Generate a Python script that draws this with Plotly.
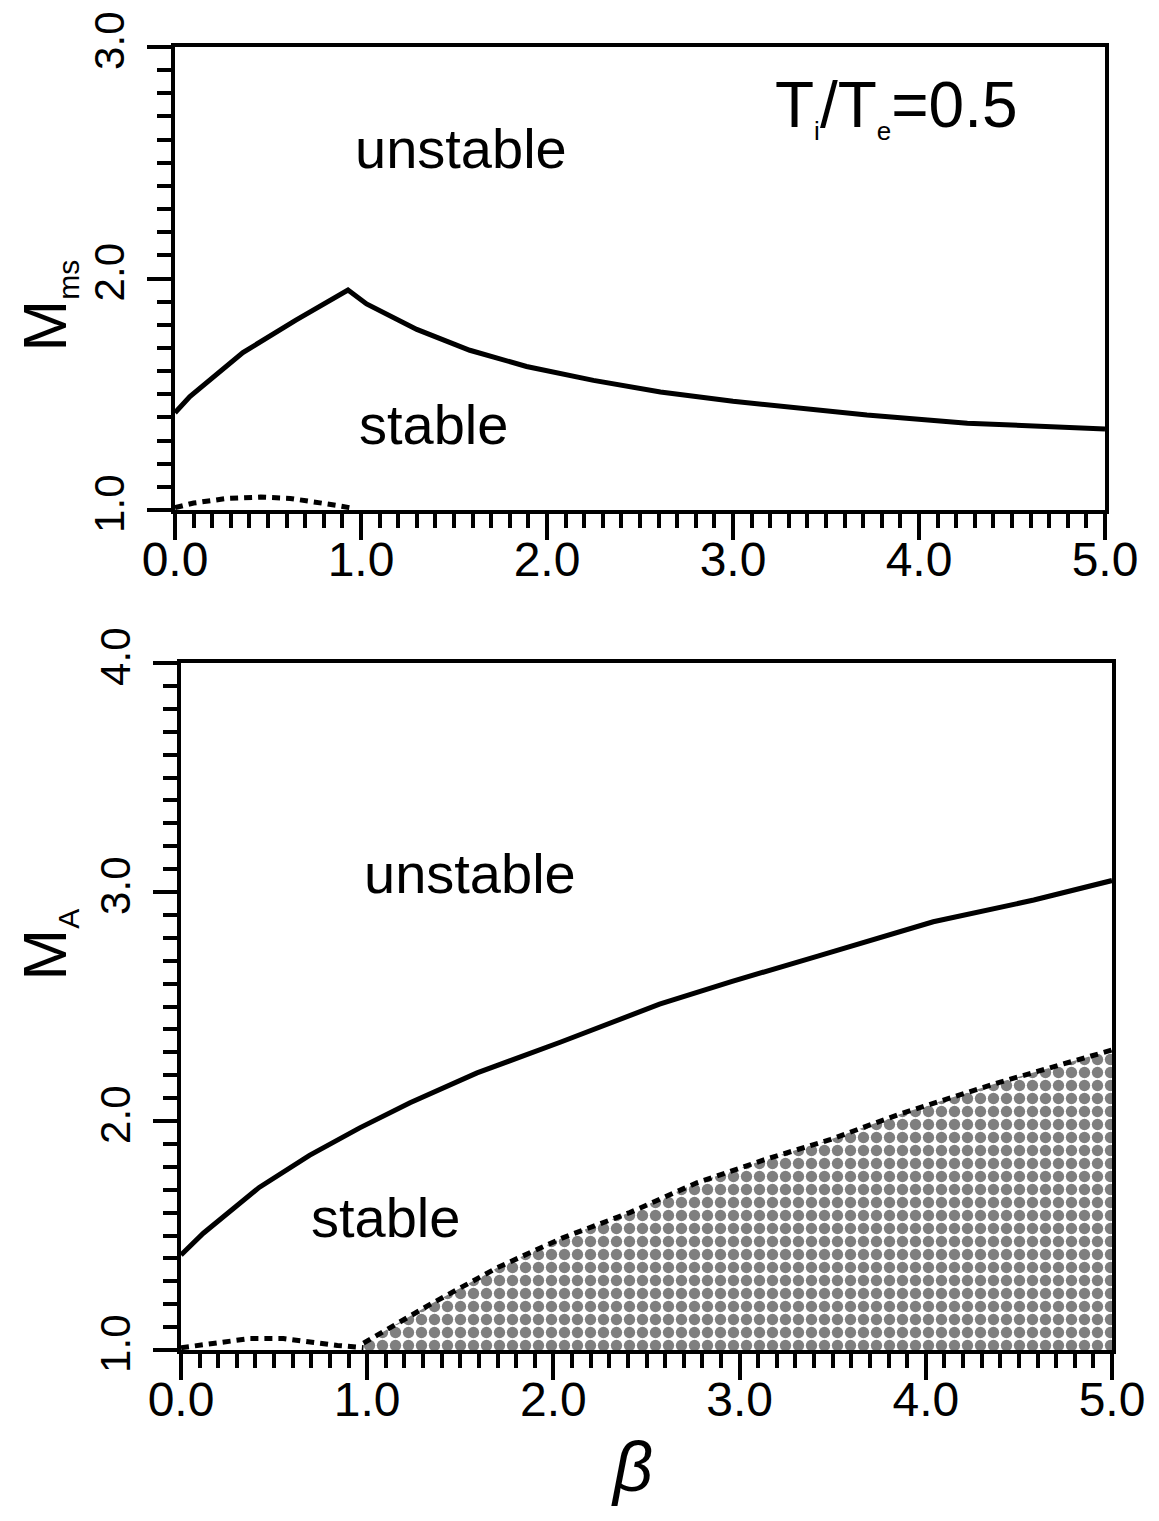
import plotly.graph_objects as go

# Upper panel: magnetosonic Mach number boundary, T_i/T_e = 0.5
beta_ms = [0.0, 0.08, 0.365, 0.65, 0.93, 1.03, 1.30, 1.585, 1.89, 2.25, 2.61, 3.0, 3.72, 4.26, 5.0]
m_ms = [1.42, 1.49, 1.68, 1.82, 1.95, 1.89, 1.78, 1.69, 1.62, 1.56, 1.51, 1.47, 1.41, 1.375, 1.35]

beta_ms_low = [0.0, 0.10, 0.28, 0.46, 0.62, 0.76, 0.87, 0.94]
m_ms_low = [1.01, 1.03, 1.05, 1.056, 1.05, 1.035, 1.02, 1.01]

# Lower panel: Alfvenic Mach number boundary
beta_a = [0.0, 0.12, 0.42, 0.69, 0.96, 1.23, 1.59, 2.04, 2.57, 2.96, 3.42, 4.04, 4.58, 5.0]
m_a = [1.415, 1.51, 1.71, 1.85, 1.97, 2.08, 2.21, 2.345, 2.51, 2.61, 2.72, 2.87, 2.965, 3.05]

beta_a_low = [0.0, 0.19, 0.37, 0.55, 0.69, 0.84, 0.98]
m_a_low = [1.01, 1.03, 1.05, 1.05, 1.035, 1.02, 1.01]

# Shaded region boundary
beta_shade = [0.98, 1.34, 1.70, 2.05, 2.41, 2.77, 3.13, 3.49, 3.86, 4.40, 5.0]
m_shade = [1.03, 1.20, 1.36, 1.49, 1.60, 1.73, 1.83, 1.92, 2.03, 2.17, 2.31]

x_ticks = [0, 1, 2, 3, 4, 5]
x_ticklabels = ["0.0", "1.0", "2.0", "3.0", "4.0", "5.0"]

FONT = "Liberation Sans"
W, H = 1159, 1521

fig = go.Figure()

solid = dict(color="black", width=5)
dotted = dict(color="black", width=5, dash="8px,6px")

fig.add_trace(go.Scatter(x=beta_ms, y=m_ms, mode="lines", line=solid,
                         xaxis="x", yaxis="y", showlegend=False))
fig.add_trace(go.Scatter(x=beta_ms_low, y=m_ms_low, mode="lines", line=dotted,
                         xaxis="x", yaxis="y", showlegend=False))

fig.add_trace(go.Scatter(x=beta_shade, y=m_shade, mode="lines", line=dotted,
                         fill="tozeroy", fillcolor="white",
                         fillpattern=dict(shape=".", fgcolor="black", bgcolor="white",
                                          size=13, solidity=0.6),
                         xaxis="x2", yaxis="y2", showlegend=False))
fig.add_trace(go.Scatter(x=beta_a, y=m_a, mode="lines", line=solid,
                         xaxis="x2", yaxis="y2", showlegend=False))
fig.add_trace(go.Scatter(x=beta_a_low, y=m_a_low, mode="lines", line=dotted,
                         xaxis="x2", yaxis="y2", showlegend=False))


def xaxis_cfg(domain, anchor):
    return dict(
        domain=domain, anchor=anchor, range=[0, 5],
        tickvals=x_ticks, ticktext=x_ticklabels,
        ticks="outside", ticklen=26, tickwidth=4, tickcolor="black",
        minor=dict(dtick=0.1, ticks="outside", ticklen=14, tickwidth=4, tickcolor="black"),
        showline=True, linewidth=4, linecolor="black", mirror=True,
        showgrid=False, zeroline=False,
        tickfont=dict(family=FONT, size=48, color="black"),
        ticklabelstandoff=-22,
        automargin=False,
    )


def yaxis_cfg(domain, anchor, rng, vals):
    return dict(
        domain=domain, anchor=anchor, range=rng,
        tickvals=vals, ticktext=[f"{v:.1f}" for v in vals],
        tickangle=-90,
        ticks="outside", ticklen=24, tickwidth=4, tickcolor="black",
        minor=dict(dtick=0.1, ticks="outside", ticklen=14, tickwidth=4, tickcolor="black"),
        showline=True, linewidth=4, linecolor="black", mirror=True,
        showgrid=False, zeroline=False,
        tickfont=dict(family=FONT, size=42, color="black"),
        ticklabelstandoff=6,
        automargin=False,
    )


fig.update_layout(
    width=W, height=H,
    margin=dict(l=0, r=0, t=0, b=0),
    paper_bgcolor="white", plot_bgcolor="white",
    xaxis=xaxis_cfg([175 / W, 1105 / W], "y"),
    yaxis=yaxis_cfg([1 - 510 / H, 1 - 47 / H], "x", [1, 3], [1, 2, 3]),
    xaxis2=xaxis_cfg([181 / W, 1112 / W], "y2"),
    yaxis2=yaxis_cfg([1 - 1350 / H, 1 - 663 / H], "x2", [1, 4], [1, 2, 3, 4]),
)

text_font = dict(family=FONT, size=56, color="black")
annotations = [
    dict(x=1.54, y=2.56, xref="x", yref="y", text="unstable", showarrow=False, font=text_font),
    dict(x=1.39, y=1.37, xref="x", yref="y", text="stable", showarrow=False, font=text_font),
    dict(x=3.88, y=2.74, xref="x", yref="y",
         text="T<sub><span style='font-size:26px'>i</span></sub>/T<sub><span style='font-size:26px'>e</span></sub>=0.5",
         showarrow=False, font=dict(family=FONT, size=64, color="black")),
    dict(x=1.55, y=3.08, xref="x2", yref="y2", text="unstable", showarrow=False, font=text_font),
    dict(x=1.10, y=1.58, xref="x2", yref="y2", text="stable", showarrow=False, font=text_font),
    dict(x=8 / W, y=1 - 258 / H, xref="paper", yref="paper",
         text="M<sub><span style='font-size:30px'>ms</span></sub>",
         textangle=-90, showarrow=False, font=dict(family=FONT, size=62, color="black")),
    dict(x=8 / W, y=1 - 945 / H, xref="paper", yref="paper",
         text="M<sub><span style='font-size:30px'>A</span></sub>",
         textangle=-90, showarrow=False, font=dict(family=FONT, size=62, color="black")),
    dict(x=632 / W, y=1 - 1508 / H, xref="paper", yref="paper", text="<i>β</i>",
         showarrow=False, font=dict(family=FONT, size=70, color="black")),
]
fig.update_layout(annotations=annotations)

fig.write_html("out.html")
